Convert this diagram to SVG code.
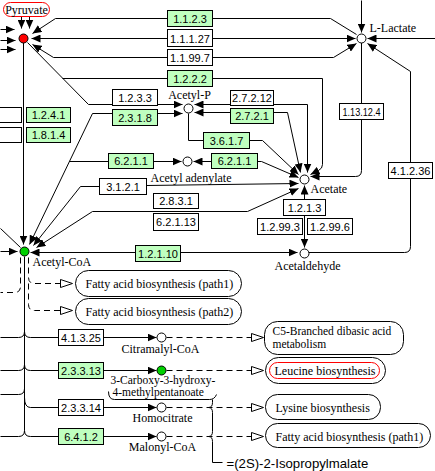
<svg xmlns="http://www.w3.org/2000/svg" width="435" height="471" viewBox="0 0 435 471">
<defs>
<style>
.ln{fill:none;stroke:#000;stroke-width:1}
.ds{fill:none;stroke:#000;stroke-width:1;stroke-dasharray:6 4}
.g{fill:#bfffbf;stroke:#000;stroke-width:1}
.w{fill:#fff;stroke:#000;stroke-width:1}
.ec{font-family:"Liberation Sans",Arial,sans-serif;font-size:11px;text-anchor:middle;fill:#000}
.lb{font-family:"Liberation Serif","Times New Roman",serif;font-size:12px;fill:#000}
.sm{font-size:11.5px}
.mid{text-anchor:middle}
.pw{fill:#fff;stroke:#000;stroke-width:1}
.cp{stroke:#000;stroke-width:1}
</style>
<marker id="a" viewBox="0 0 9 8" refX="9" refY="4" markerWidth="9" markerHeight="8" markerUnits="userSpaceOnUse" orient="auto"><path d="M0,0L9,4L0,8z" fill="#000"/></marker>
<marker id="o" viewBox="0 0 13 9" refX="12.5" refY="4.5" markerWidth="13" markerHeight="9" markerUnits="userSpaceOnUse" orient="auto"><path d="M0.5,0.5L12.5,4.5L0.5,8.5z" fill="#fff" stroke="#000" stroke-width="1" stroke-dasharray="none"/></marker>
</defs>
<rect x="0" y="0" width="435" height="471" fill="#fff"/>
<g transform="translate(0.5,0.5)">
<g id="connectors">
<!-- Pyruvate -->
<path class="ln" d="M0,29H14" marker-end="url(#a)"/>
<path class="ln" d="M0,40H15" marker-end="url(#a)"/>
<path class="ln" d="M0,49H15" marker-end="url(#a)"/>
<path class="ln" d="M21,16V28" marker-end="url(#a)"/>
<path class="ln" d="M29,16V28" marker-end="url(#a)"/>
<path class="ln" d="M167,18H55L32,33" marker-end="url(#a)"/>
<path class="ln" d="M167,38H31" marker-end="url(#a)"/>
<path class="ln" d="M167,57H53L32,44" marker-end="url(#a)"/>
<path class="ln" d="M27,42L88,104H112"/>
<path class="ln" d="M167,78H62"/>
<path class="ln" d="M23,42V244" marker-end="url(#a)"/>
<!-- to L-Lactate -->
<path class="ln" d="M212,18H330L356,34"/>
<path class="ln" d="M212,38H355" marker-end="url(#a)"/>
<path class="ln" d="M212,57H333L356,43" marker-end="url(#a)"/>
<path class="ln" d="M361,0V32" marker-end="url(#a)"/>
<path class="ln" d="M435,38H367" marker-end="url(#a)"/>
<path class="ln" d="M308,252H404Q410,252 410,246V71L367,43" marker-end="url(#a)"/>
<path class="ln" d="M361,42V170Q361,176 355,176H310" marker-end="url(#a)"/>
<path class="ln" d="M212,78H322V164Q322,168 318,170L310,174" marker-end="url(#a)"/>
<!-- Acetyl-P -->
<path class="ln" d="M157,104H182" marker-end="url(#a)"/>
<path class="ln" d="M157,113H182" marker-end="url(#a)"/>
<path class="ln" d="M112,113H92L29,244" marker-end="url(#a)"/>
<path class="ln" d="M230,104H194" marker-end="url(#a)"/>
<path class="ln" d="M230,112H194" marker-end="url(#a)"/>
<path class="ln" d="M273,104H307V172" marker-end="url(#a)"/>
<path class="ln" d="M273,112H287L300,172" marker-end="url(#a)"/>
<path class="ln" d="M188,113V140H203"/>
<path class="ln" d="M249,140H262L298,174" marker-end="url(#a)"/>
<!-- Acetyl adenylate -->
<path class="ln" d="M69,161H108"/>
<path class="ln" d="M153,161H181" marker-end="url(#a)"/>
<path class="ln" d="M211,161H193" marker-end="url(#a)"/>
<path class="ln" d="M257,161H261L298,177" marker-end="url(#a)"/>
<!-- Acetate -->
<path class="ln" d="M99,186H80L33,245" marker-end="url(#a)"/>
<path class="ln" d="M146,185L298,183" marker-end="url(#a)"/>
<path class="ln" d="M247,211H92L36,247" marker-end="url(#a)"/>
<path class="ln" d="M247,211L298,188" marker-end="url(#a)"/>
<path class="ln" d="M304,199V185" marker-end="url(#a)"/>
<path class="ln" d="M304,215V247" marker-end="url(#a)"/>
<!-- Acetyl-CoA / Acetaldehyde -->
<path class="ln" d="M135,252H30" marker-end="url(#a)"/>
<path class="ln" d="M180,252H297" marker-end="url(#a)"/>
<path class="ln" d="M0,251H17" marker-end="url(#a)"/>
<path class="ln" d="M0,228L20,247"/>
<path class="ds" d="M20,257V286Q20,292 14,292H0"/>
<path class="ds" d="M28,257V277Q28,283 34,283H72" marker-end="url(#o)"/>
<path class="ds" d="M28,283V304Q28,310 34,310H72" marker-end="url(#o)"/>
<path class="ln" d="M24,256V430"/>
<!-- rows -->
<path class="ln" d="M0,337H18Q24,337 24,331Q24,337 30,337H58"/>
<path class="ln" d="M103,337H156" marker-end="url(#a)"/>
<path class="ds" d="M166,337H263" marker-end="url(#o)"/>
<path class="ln" d="M0,370H18Q24,370 24,364Q24,370 30,370H58"/>
<path class="ln" d="M103,370H156" marker-end="url(#a)"/>
<path class="ds" d="M166,370H263" marker-end="url(#o)"/>
<path class="ln" d="M0,394H18Q24,394 24,388"/>
<path class="ln" d="M24,397Q24,407 30,407H58"/>
<path class="ln" d="M103,407H156" marker-end="url(#a)"/>
<path class="ds" d="M166,407H263" marker-end="url(#o)"/>
<path class="ln" d="M0,436H18Q24,436 24,430Q24,436 30,436H58"/>
<path class="ln" d="M103,436H156" marker-end="url(#a)"/>
<path class="ds" d="M166,436H263" marker-end="url(#o)"/>
<!-- synonym bracket -->
<path class="ln" d="M108,391Q108,399 114,399H209Q214,399 216,394"/>
<path class="ln" d="M212,399V402Q212,407 208,407Q212,407 212,412V431Q212,436 208,436Q212,436 212,441V462H222"/>
</g>

<!-- compounds -->
<g id="pyruvate">
<rect x="3" y="2" width="46" height="14" rx="7" fill="#fff" stroke="#ff0000"/>
<text class="lb mid" x="26" y="13">Pyruvate</text>
<circle cx="23" cy="38" r="4.5" fill="#ff0000" class="cp"/>
</g>
<g id="l-lactate">
<circle cx="361" cy="38" r="4.5" fill="#fff" class="cp"/>
<text class="lb" x="369" y="31">L-Lactate</text>
</g>
<g id="acetyl-p">
<circle cx="188" cy="108" r="4.5" fill="#fff" class="cp"/>
<text class="lb mid" x="189" y="98">Acetyl-P</text>
</g>
<g id="acetyl-adenylate">
<circle cx="187" cy="161" r="4.5" fill="#fff" class="cp"/>
<text class="lb" x="150" y="181">Acetyl adenylate</text>
</g>
<g id="acetate">
<circle cx="304" cy="179" r="4.5" fill="#fff" class="cp"/>
<text class="lb" x="310" y="192">Acetate</text>
</g>
<g id="acetaldehyde">
<circle cx="304" cy="253" r="4.5" fill="#fff" class="cp"/>
<text class="lb" x="274" y="269">Acetaldehyde</text>
</g>
<g id="acetyl-coa">
<circle cx="24" cy="251" r="4.5" fill="#00d000" class="cp"/>
<text class="lb" x="32" y="265">Acetyl-CoA</text>
</g>
<g id="citramalyl-coa">
<circle cx="161" cy="337" r="4.5" fill="#fff" class="cp"/>
<text class="lb mid" x="160" y="352">Citramalyl-CoA</text>
</g>
<g id="carboxy-hydroxy">
<circle cx="161" cy="370" r="4.5" fill="#00d000" class="cp"/>
<text class="lb sm" x="110" y="383">3-Carboxy-3-hydroxy-</text>
<text class="lb sm" x="112" y="395.5">4-methylpentanoate</text>
</g>
<g id="homocitrate">
<circle cx="161" cy="407" r="4.5" fill="#fff" class="cp"/>
<text class="lb mid" x="162" y="421">Homocitrate</text>
</g>
<g id="malonyl-coa">
<circle cx="161" cy="436" r="4.5" fill="#fff" class="cp"/>
<text class="lb mid" x="162" y="450">Malonyl-CoA</text>
</g>
<g id="isopropylmalate">
<text x="226" y="467" style="font-family:'Liberation Sans',Arial,sans-serif;font-size:13.2px">=(2S)-2-Isopropylmalate</text>
</g>

<!-- enzymes -->
<g id="ec-1.1.2.3"><rect class="g" x="167" y="10" width="45" height="16"/><text class="ec" x="189.5" y="22">1.1.2.3</text></g>
<g id="ec-1.1.1.27"><rect class="w" x="167" y="29" width="45" height="17"/><text class="ec" x="189.5" y="42">1.1.1.27</text></g>
<g id="ec-1.1.99.7"><rect class="w" x="167" y="49" width="45" height="16"/><text class="ec" x="189.5" y="61">1.1.99.7</text></g>
<g id="ec-1.2.2.2"><rect class="g" x="167" y="70" width="45" height="16"/><text class="ec" x="189.5" y="82">1.2.2.2</text></g>
<g id="ec-1.2.3.3"><rect class="w" x="112" y="89" width="45" height="16"/><text class="ec" x="134.5" y="101">1.2.3.3</text></g>
<g id="ec-2.3.1.8"><rect class="g" x="112" y="109" width="45" height="16"/><text class="ec" x="134.5" y="121">2.3.1.8</text></g>
<g id="ec-left-1"><rect class="w" x="-2" y="107" width="23" height="15"/></g>
<g id="ec-left-2"><rect class="w" x="-2" y="127" width="23" height="15"/></g>
<g id="ec-1.2.4.1"><rect class="g" x="26" y="107" width="44" height="15"/><text class="ec" x="48" y="118.5">1.2.4.1</text></g>
<g id="ec-1.8.1.4"><rect class="g" x="26" y="127" width="44" height="15"/><text class="ec" x="48" y="138.5">1.8.1.4</text></g>
<g id="ec-2.7.2.12"><rect class="w" x="230" y="90" width="43" height="15"/><text class="ec" x="251.5" y="101.5">2.7.2.12</text></g>
<g id="ec-2.7.2.1"><rect class="g" x="230" y="108" width="43" height="15"/><text class="ec" x="251.5" y="119.5">2.7.2.1</text></g>
<g id="ec-3.6.1.7"><rect class="g" x="203" y="132" width="46" height="16"/><text class="ec" x="226" y="144">3.6.1.7</text></g>
<g id="ec-6.2.1.1-a"><rect class="g" x="108" y="153" width="45" height="15"/><text class="ec" x="130.5" y="164.5">6.2.1.1</text></g>
<g id="ec-6.2.1.1-b"><rect class="g" x="211" y="153" width="46" height="15"/><text class="ec" x="234" y="164.5">6.2.1.1</text></g>
<g id="ec-3.1.2.1"><rect class="w" x="99" y="178" width="47" height="16"/><text class="ec" x="122.5" y="190">3.1.2.1</text></g>
<g id="ec-2.8.3.1"><rect class="w" x="153" y="193" width="45" height="15"/><text class="ec" x="175.5" y="204.5">2.8.3.1</text></g>
<g id="ec-6.2.1.13"><rect class="w" x="153" y="213" width="45" height="17"/><text class="ec" x="175.5" y="225.5">6.2.1.13</text></g>
<g id="ec-1.2.1.3"><rect class="w" x="283" y="199" width="42" height="16"/><text class="ec" x="304" y="211">1.2.1.3</text></g>
<g id="ec-1.2.99.3"><rect class="w" x="257" y="218" width="45" height="16"/><text class="ec" x="279.5" y="230">1.2.99.3</text></g>
<g id="ec-1.2.99.6"><rect class="w" x="307" y="218" width="45" height="16"/><text class="ec" x="329.5" y="230">1.2.99.6</text></g>
<g id="ec-1.13.12.4"><rect class="w" x="339" y="103" width="44" height="16"/><text class="ec" x="361" y="115" textLength="38" lengthAdjust="spacingAndGlyphs">1.13.12.4</text></g>
<g id="ec-4.1.2.36"><rect class="w" x="388" y="162" width="44" height="16"/><text class="ec" x="410" y="174">4.1.2.36</text></g>
<g id="ec-1.2.1.10"><rect class="g" x="135" y="245" width="45" height="16"/><text class="ec" x="157.5" y="257">1.2.1.10</text></g>
<g id="ec-4.1.3.25"><rect class="w" x="58" y="329" width="45" height="16"/><text class="ec" x="80.5" y="341">4.1.3.25</text></g>
<g id="ec-2.3.3.13"><rect class="g" x="58" y="362" width="45" height="16"/><text class="ec" x="80.5" y="374">2.3.3.13</text></g>
<g id="ec-2.3.3.14"><rect class="w" x="58" y="399" width="45" height="16"/><text class="ec" x="80.5" y="411">2.3.3.14</text></g>
<g id="ec-6.4.1.2"><rect class="g" x="58" y="428" width="45" height="16"/><text class="ec" x="80.5" y="440">6.4.1.2</text></g>

<!-- pathway maps -->
<g id="map-fatty-acid-1"><rect class="pw" x="75" y="270" width="166" height="26" rx="13"/><text class="lb" x="85" y="287">Fatty acid biosynthesis (path1)</text></g>
<g id="map-fatty-acid-2"><rect class="pw" x="75" y="298" width="166" height="26" rx="13"/><text class="lb" x="85" y="315">Fatty acid biosynthesis (path2)</text></g>
<g id="map-c5"><rect class="pw" x="264" y="321" width="139" height="33" rx="13"/><text class="lb sm" x="272" y="334">C5-Branched dibasic acid</text><text class="lb sm" x="272" y="347.5">metabolism</text></g>
<g id="map-leucine"><rect class="pw" x="265" y="357" width="120" height="26" rx="13"/><rect x="269" y="362" width="110" height="16" rx="8" fill="none" stroke="#ff0000"/><text class="lb" x="274" y="374">Leucine biosynthesis</text></g>
<g id="map-lysine"><rect class="pw" x="265" y="394" width="115" height="25" rx="12"/><text class="lb" x="275" y="411">Lysine biosynthesis</text></g>
<g id="map-fatty-acid-3"><rect class="pw" x="265" y="423" width="165" height="24" rx="12"/><text class="lb" x="275" y="440">Fatty acid biosynthesis (path1)</text></g>
</g>
</svg>
